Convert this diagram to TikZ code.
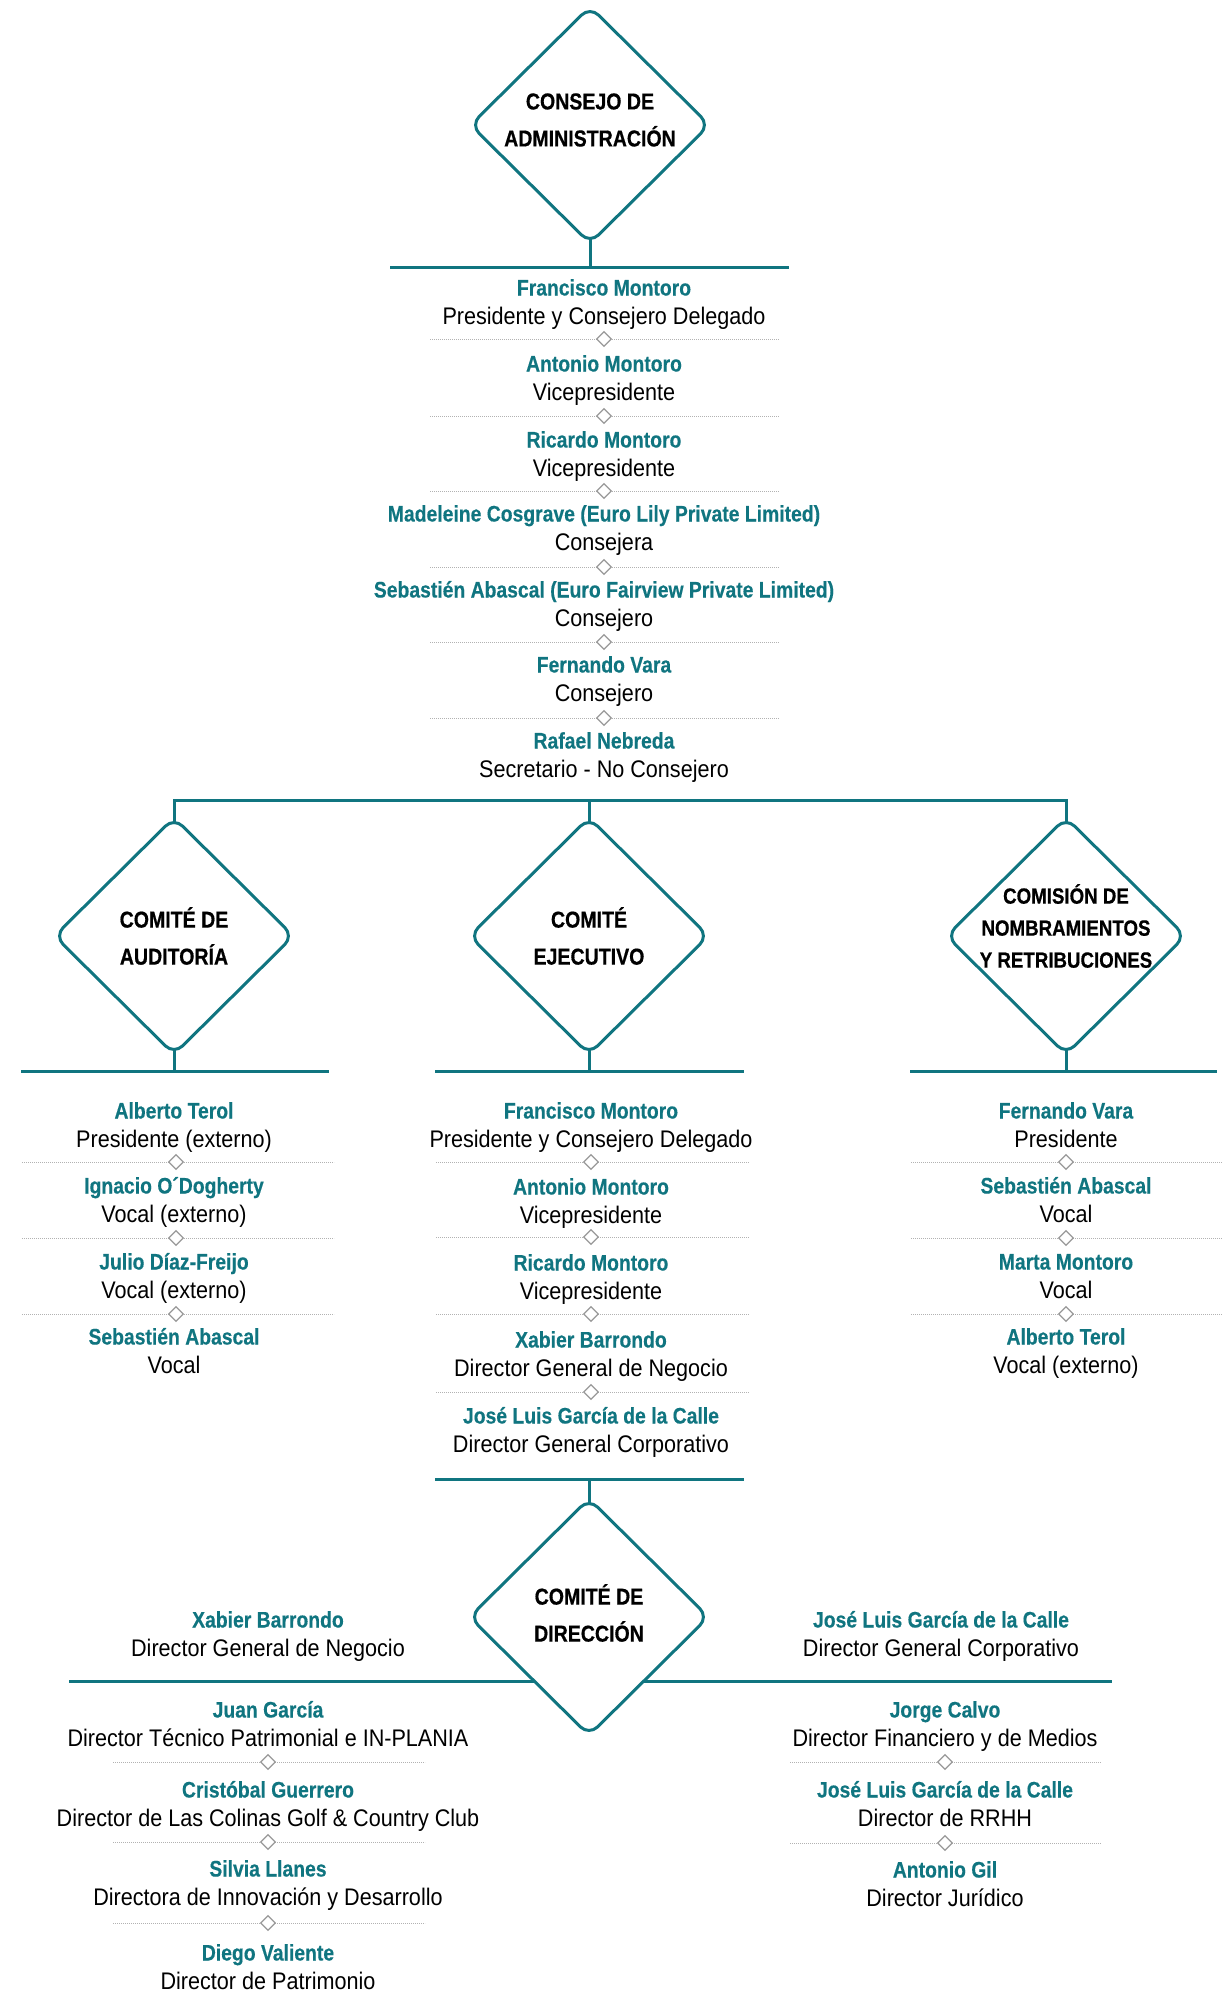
\documentclass[tikz,border=0pt]{standalone}
\usepackage{fontspec}
\setmainfont{Liberation Sans}[FakeStretch=0.9]
\newfontfamily\heavycond{Liberation Sans Bold}[FakeStretch=0.85, FakeBold=0.6]
\newfontfamily\namecond{Liberation Sans Bold}[FakeStretch=0.86, FakeBold=0.3]
\usetikzlibrary{shapes.geometric,positioning}
\definecolor{petrol}{RGB}{16,117,128}

\begin{document}
\begin{tikzpicture}[x=1pt,y=-1pt,
    board/.style={diamond, draw=petrol, line width=3pt, fill=white,
      rounded corners=12pt, minimum width=240pt, minimum height=238pt, inner sep=0pt},
    boardtext/.style={align=center, font=\fontsize{23}{37}\heavycond},
    bar/.style={petrol, line width=3pt, line cap=rect},
    link/.style={petrol, line width=3pt, line cap=rect, shorten <=-5pt},
    who/.style={text=petrol, font=\fontsize{22.5}{24}\namecond,
      inner sep=0pt, text height=15pt, text depth=0pt},
    role/.style={font=\fontsize{24}{28}\selectfont, inner sep=0pt,
      text height=17pt, text depth=0pt},
    sep/.style={black!30, line width=0.8pt, dash pattern=on 0.8pt off 1.2pt},
    tick/.style={diamond, draw=black!40, fill=white, line width=1.3pt,
      minimum size=15pt, inner sep=0pt}]
  \path[use as bounding box, fill=white] (0,0) rectangle (1223,1990);

  % consejo
  \node[board, label={[boardtext, yshift=5pt]center:CONSEJO DE\\ADMINISTRACIÓN}] (cons) at (590,125) {};
  \coordinate (topL) at (391,267);
  \coordinate (topR) at (787,267);
  \draw[bar] (topL) -- (topR);
  \draw[link] (cons.south) -- (cons.south |- topL);

  \foreach \y/\who/\role [count=\i] in {288/Francisco Montoro/Presidente y Consejero Delegado,
      364/Antonio Montoro/Vicepresidente, 440/Ricardo Montoro/Vicepresidente,
      514/Madeleine Cosgrave (Euro Lily Private Limited)/Consejera,
      590/Sebastién Abascal (Euro Fairview Private Limited)/Consejero,
      665/Fernando Vara/Consejero, 741/Rafael Nebreda/Secretario - No Consejero}
    {\node[who] (b\i) at (604,\y) {\who};
     \node[role, below=12pt of b\i] (b\i r) {\role};}
  \foreach \y in {339,416,491,567,642,718}
    {\draw[sep] (430,\y) -- (779,\y);
     \node[tick] (bs\y) at (604,\y) {};}

  % comites
  \coordinate (busL) at (174,800);
  \coordinate (busR) at (1066,800);
  \draw[bar] (busL) -- (busR);

  \node[board, label={[boardtext]center:COMITÉ DE\\AUDITORÍA}] (aud) at (174,936) {};
  \node[board, label={[boardtext]center:COMITÉ\\EJECUTIVO}] (eje) at (589,936) {};
  \node[board, label={[boardtext, font=\fontsize{22}{32}\heavycond, yshift=10pt]center:COMISIÓN DE\\NOMBRAMIENTOS\\Y RETRIBUCIONES}] (nom) at (1066,936) {};

  \coordinate (audL) at (22,1071);
  \coordinate (audR) at (327,1071);
  \coordinate (ejeL) at (436,1071);
  \coordinate (ejeR) at (742,1071);
  \coordinate (nomL) at (911,1071);
  \coordinate (nomR) at (1215,1071);
  \draw[bar] (audL) -- (audR);
  \draw[bar] (ejeL) -- (ejeR);
  \draw[bar] (nomL) -- (nomR);

  \draw[link] (aud.north) -- (aud.north |- busL);
  \draw[link] (eje.north) -- (eje.north |- busL);
  \draw[link] (nom.north) -- (nom.north |- busL);
  \draw[link] (aud.south) -- (aud.south |- audL);
  \draw[link] (eje.south) -- (eje.south |- ejeL);
  \draw[link] (nom.south) -- (nom.south |- nomL);

  \foreach \y/\who/\role [count=\i] in {1111/Alberto Terol/Presidente (externo),
      1186/Ignacio O´Dogherty/Vocal (externo), 1262/Julio Díaz-Freijo/Vocal (externo),
      1337/Sebastién Abascal/Vocal}
    {\node[who] (a\i) at (174,\y) {\who};
     \node[role, below=12pt of a\i] (a\i r) {\role};}
  \foreach \y in {1162,1238,1314}
    {\draw[sep] (22,\y) -- (334,\y);
     \node[tick] (as\y) at (176,\y) {};}

  \foreach \y/\who/\role [count=\i] in {1111/Francisco Montoro/Presidente y Consejero Delegado,
      1187/Antonio Montoro/Vicepresidente, 1263/Ricardo Montoro/Vicepresidente,
      1340/Xabier Barrondo/Director General de Negocio,
      1416/José Luis García de la Calle/Director General Corporativo}
    {\node[who] (e\i) at (591,\y) {\who};
     \node[role, below=12pt of e\i] (e\i r) {\role};}
  \foreach \y in {1162,1237,1314,1392}
    {\draw[sep] (436,\y) -- (749,\y);
     \node[tick] (es\y) at (591,\y) {};}

  \foreach \y/\who/\role [count=\i] in {1111/Fernando Vara/Presidente,
      1186/Sebastién Abascal/Vocal, 1262/Marta Montoro/Vocal,
      1337/Alberto Terol/Vocal (externo)}
    {\node[who] (n\i) at (1066,\y) {\who};
     \node[role, below=12pt of n\i] (n\i r) {\role};}
  \foreach \y in {1162,1238,1314}
    {\draw[sep] (911,\y) -- (1222,\y);
     \node[tick] (ns\y) at (1066,\y) {};}

  % comite de direccion
  \coordinate (dirT) at (436,1479);
  \coordinate (dirTR) at (742,1479);
  \draw[bar] (dirT) -- (dirTR);
  \coordinate (dirL) at (70,1681);
  \coordinate (dirR) at (1110,1681);
  \draw[bar] (dirL) -- (dirR);
  \node[board, label={[boardtext, yshift=4pt]center:COMITÉ DE\\DIRECCIÓN}] (dir) at (589,1617) {};
  \draw[link] (dir.north) -- (dir.north |- dirT);

  \node[who] (dl0) at (268,1620) {Xabier Barrondo};
  \node[role, below=12pt of dl0] (dl0r) {Director General de Negocio};
  \node[who] (dr0) at (941,1620) {José Luis García de la Calle};
  \node[role, below=12pt of dr0] (dr0r) {Director General Corporativo};

  \foreach \y/\who/\role [count=\i] in {1710/Juan García/Director Técnico Patrimonial e IN-PLANIA,
      1790/Cristóbal Guerrero/Director de Las Colinas Golf \& Country Club,
      1869/Silvia Llanes/Directora de Innovación y Desarrollo,
      1953/Diego Valiente/Director de Patrimonio}
    {\node[who] (dl\i) at (268,\y) {\who};
     \node[role, below=12pt of dl\i] (dl\i r) {\role};}
  \foreach \y in {1762,1842,1923}
    {\draw[sep] (113,\y) -- (425,\y);
     \node[tick] (ls\y) at (268,\y) {};}

  \foreach \y/\who/\role [count=\i] in {1710/Jorge Calvo/Director Financiero y de Medios,
      1790/José Luis García de la Calle/Director de RRHH,
      1870/Antonio Gil/Director Jurídico}
    {\node[who] (dr\i) at (945,\y) {\who};
     \node[role, below=12pt of dr\i] (dr\i r) {\role};}
  \foreach \y in {1762,1843}
    {\draw[sep] (790,\y) -- (1101,\y);
     \node[tick] (rs\y) at (945,\y) {};}
\end{tikzpicture}
\end{document}
